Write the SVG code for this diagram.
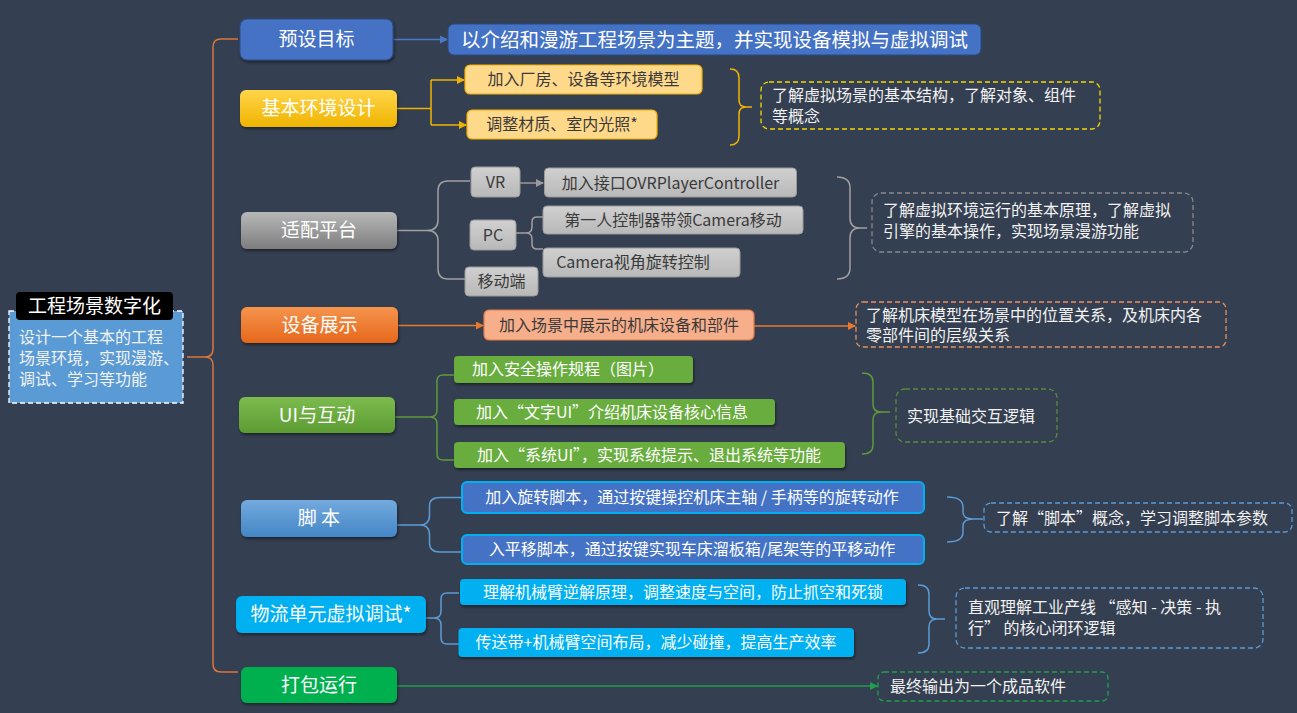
<svg xmlns="http://www.w3.org/2000/svg" width="1297" height="713" viewBox="0 0 1297 713">
<defs>
<linearGradient id="gY" x1="0" y1="0" x2="0" y2="1"><stop offset="0" stop-color="#ffd54a"/><stop offset="1" stop-color="#efb400"/></linearGradient>
<linearGradient id="gG" x1="0" y1="0" x2="0" y2="1"><stop offset="0" stop-color="#b8b8b8"/><stop offset="1" stop-color="#7d7d7d"/></linearGradient>
<linearGradient id="gGs" x1="0" y1="0" x2="0" y2="1"><stop offset="0" stop-color="#d0d0d0"/><stop offset="1" stop-color="#b8b8b8"/></linearGradient>
<linearGradient id="gO" x1="0" y1="0" x2="0" y2="1"><stop offset="0" stop-color="#f5944c"/><stop offset="1" stop-color="#e6681c"/></linearGradient>
<linearGradient id="gGr" x1="0" y1="0" x2="0" y2="1"><stop offset="0" stop-color="#7cbb4e"/><stop offset="1" stop-color="#5c9c33"/></linearGradient>
<linearGradient id="gB" x1="0" y1="0" x2="0" y2="1"><stop offset="0" stop-color="#74aade"/><stop offset="1" stop-color="#4386c6"/></linearGradient>
<filter id="sh" x="-10%" y="-20%" width="120%" height="150%"><feDropShadow dx="1" dy="2" stdDeviation="1.5" flood-color="#000" flood-opacity="0.45"/></filter>
<marker id="aB" markerWidth="8" markerHeight="8" refX="7" refY="4" orient="auto" markerUnits="userSpaceOnUse"><path d="M0,0 L8,4 L0,8 Z" fill="#4a78c8"/></marker>
<marker id="aY" markerWidth="8" markerHeight="8" refX="7" refY="4" orient="auto" markerUnits="userSpaceOnUse"><path d="M0,0 L8,4 L0,8 Z" fill="#f0b400"/></marker>
<marker id="aGy" markerWidth="8" markerHeight="8" refX="7" refY="4" orient="auto" markerUnits="userSpaceOnUse"><path d="M0,0 L8,4 L0,8 Z" fill="#9a9a9a"/></marker>
<marker id="aO" markerWidth="8" markerHeight="8" refX="7" refY="4" orient="auto" markerUnits="userSpaceOnUse"><path d="M0,0 L8,4 L0,8 Z" fill="#e8782e"/></marker>
<marker id="aGn" markerWidth="8" markerHeight="8" refX="7" refY="4" orient="auto" markerUnits="userSpaceOnUse"><path d="M0,0 L8,4 L0,8 Z" fill="#1ea04c"/></marker>
</defs>
<style>
text{font-family:"Noto Sans CJK SC","Noto Sans",sans-serif;}
.main{font-size:19px;fill:#ffffff;text-anchor:middle;}
.sub{font-size:16px;text-anchor:middle;}
.dk{fill:#3a3a3a;}
.wt{fill:#ffffff;}
.note{font-size:16px;fill:#f2f2f2;}
.ln{fill:none;stroke-width:1.5;}
.dash{fill:none;stroke-width:1.3;stroke-dasharray:5 3;}
</style>
<rect width="1297" height="713" fill="#343f51"/>

<g id="connectors">
<path class="ln" stroke="#d9773a" d="M187,357 L205,357 Q213,357 213,349 L213,47 Q213,39 221,39 L238,39 M205,357 Q213,357 213,365 L213,664 Q213,672 221,672 L238,672"/>
<path class="ln" stroke="#4a78c8" d="M393,39.5 L447,39.5" marker-end="url(#aB)"/>
<path class="ln" stroke="#f0b400" d="M397,108.5 L431,108.5 M431,80 L431,125" />
<path class="ln" stroke="#f0b400" d="M431,80 L464,80" marker-end="url(#aY)"/>
<path class="ln" stroke="#f0b400" d="M431,125 L466,125" marker-end="url(#aY)"/>
<path class="ln" stroke="#f0b400" d="M730,69 Q739,69 739,78 L739,100 Q739,107 746,107 L752,107 M746,107 Q739,107 739,114 L739,136 Q739,145 730,145"/>
<path class="ln" stroke="#a0a0a0" d="M397,230.5 L427,230.5 Q438,230.5 438,220 L438,191 Q438,181 448,181 L470,181 M427,230.5 Q438,230.5 438,241 L438,269 Q438,279 448,279 L465,279"/>
<path class="ln" stroke="#9a9a9a" d="M520,183 L543,183" marker-end="url(#aGy)"/>
<path class="ln" stroke="#a0a0a0" d="M516,233 L526,233 Q532,233 532,227 L532,222 Q532,217 537,217 L543,217 M526,233 Q532,233 532,239 L532,244 Q532,249 537,249 L543,249"/>
<path class="ln" stroke="#a0a0a0" d="M837,177 Q850,177 850,188 L850,218 Q850,228 860,228 L867,228 M860,228 Q850,228 850,238 L850,268 Q850,279 837,279"/>
<path class="ln" stroke="#e8782e" d="M398,325.5 L483,325.5" marker-end="url(#aO)"/>
<path class="ln" stroke="#e8782e" d="M754,326 L855,326" marker-end="url(#aO)"/>
<path class="ln" stroke="#5e9a3a" d="M395,417 L430,417 Q437,417 437,410 L437,381 Q437,375 443,375 L454,375 M430,417 Q437,417 437,424 L437,454 Q437,460 443,460 L454,460"/>
<path class="ln" stroke="#5e9a3a" d="M862,373 Q873,373 873,382 L873,404 Q873,412 881,412 L890,412 M881,412 Q873,412 873,420 L873,445 Q873,454 862,454"/>
<path class="ln" stroke="#5b9bd5" d="M397,525 L420,525 Q429.5,525 429.5,515 L429.5,506 Q429.5,497.5 440,497.5 L462,497.5 M420,525 Q429.5,525 429.5,535 L429.5,543 Q429.5,552 440,552 L462,552"/>
<path class="ln" stroke="#5b9bd5" d="M947,497 Q963,497 963,507 L963,512 Q963,519 973,519 L983,519 M973,519 Q963,519 963,526 L963,532 Q963,542 947,542"/>
<path class="ln" stroke="#5b9bd5" d="M426,618 L434,618 Q441,618 441,611 L441,599 Q441,593 447,593 L459,593 M434,618 Q441,618 441,625 L441,638 Q441,644 447,644 L459,644"/>
<path class="ln" stroke="#5b9bd5" d="M918,585 Q929,585 929,594 L929,611 Q929,619 937,619 L945,619 M937,619 Q929,619 929,627 L929,644 Q929,653 918,653"/>
<path class="ln" stroke="#1ea04c" d="M397,686 L877,686" marker-end="url(#aGn)"/>
</g>

<g id="root">
<rect x="9" y="311" width="174" height="92" fill="#5b9bd5" stroke="#ffffff" stroke-width="1.3" stroke-dasharray="5 3"/>
<rect x="16" y="292" width="157" height="28" rx="4" fill="#000000"/>
<text x="94.5" y="312.5" font-size="19" fill="#ffffff" text-anchor="middle">工程场景数字化</text>
<text class="note" x="19" y="343" fill="#f0f0f0">设计一个基本的工程</text>
<text class="note" x="19" y="364" fill="#f0f0f0">场景环境，实现漫游、</text>
<text class="note" x="19" y="385" fill="#f0f0f0">调试、学习等功能</text>
</g>

<g id="n-preset">
<rect x="240" y="19" width="153" height="41" rx="7" fill="#4472c4" stroke="#2a4a86" stroke-width="1" filter="url(#sh)"/>
<text class="main" x="316.5" y="46">预设目标</text>
</g>
<g id="n-goal">
<rect x="448" y="24" width="533" height="31" rx="6" fill="#4472c4" stroke="#2a4a86" stroke-width="1"/>
<text x="714.5" y="46.5" font-size="19.5" fill="#ffffff" text-anchor="middle">以介绍和漫游工程场景为主题，并实现设备模拟与虚拟调试</text>
</g>

<g id="n-env">
<rect x="240" y="90" width="157" height="37" rx="6" fill="url(#gY)" filter="url(#sh)"/>
<text class="main" x="318.5" y="115">基本环境设计</text>
</g>
<g id="n-env1">
<rect x="465" y="65" width="237" height="29" rx="5" fill="#ffd98a" stroke="#f2b200" stroke-width="1.2"/>
<text class="sub dk" x="583.5" y="85">加入厂房、设备等环境模型</text>
</g>
<g id="n-env2">
<rect x="467" y="110" width="190" height="29" rx="5" fill="#ffd98a" stroke="#f2b200" stroke-width="1.2"/>
<text class="sub dk" x="562" y="130">调整材质、室内光照*</text>
</g>
<g id="n-env-note">
<rect x="761" y="82" width="339" height="47" rx="8" class="dash" stroke="#f5d800"/>
<text class="note" x="772" y="101">了解虚拟场景的基本结构，了解对象、组件</text>
<text class="note" x="772" y="122">等概念</text>
</g>

<g id="n-platform">
<rect x="241" y="212" width="156" height="37" rx="6" fill="url(#gG)" filter="url(#sh)"/>
<text class="main" x="319" y="237">适配平台</text>
</g>
<g id="n-vr">
<rect x="471" y="167" width="49" height="30" rx="4" fill="url(#gGs)" stroke="#9a9a9a"/>
<text class="sub dk" x="495.5" y="188">VR</text>
</g>
<g id="n-vr1">
<rect x="544.5" y="168" width="252" height="29" rx="4" fill="url(#gGs)" stroke="#9a9a9a"/>
<text class="sub dk" x="670.5" y="188.5">加入接口OVRPlayerController</text>
</g>
<g id="n-pc">
<rect x="470" y="220" width="46" height="30" rx="4" fill="url(#gGs)" stroke="#9a9a9a"/>
<text class="sub dk" x="493" y="241">PC</text>
</g>
<g id="n-pc1">
<rect x="543" y="206" width="260" height="28" rx="4" fill="url(#gGs)" stroke="#9a9a9a"/>
<text class="sub dk" x="673" y="225.5">第一人控制器带领Camera移动</text>
</g>
<g id="n-pc2">
<rect x="543" y="248" width="197" height="29" rx="4" fill="url(#gGs)" stroke="#9a9a9a"/>
<text class="sub dk" x="633" y="268">Camera视角旋转控制</text>
</g>
<g id="n-mobile">
<rect x="465" y="267" width="73" height="29" rx="4" fill="url(#gGs)" stroke="#9a9a9a"/>
<text class="sub dk" x="501.5" y="287">移动端</text>
</g>
<g id="n-platform-note">
<rect x="872" y="193" width="321" height="59" rx="9" class="dash" stroke="#8a8a8a"/>
<text class="note" x="883" y="216">了解虚拟环境运行的基本原理，了解虚拟</text>
<text class="note" x="883" y="237">引擎的基本操作，实现场景漫游功能</text>
</g>

<g id="n-equip">
<rect x="241" y="307" width="157" height="36" rx="6" fill="url(#gO)" filter="url(#sh)"/>
<text class="main" x="319.5" y="331.5">设备展示</text>
</g>
<g id="n-equip1">
<rect x="484" y="310" width="270" height="30" rx="5" fill="#f7ae8b" stroke="#e57c45" stroke-width="1.2"/>
<text class="sub dk" x="619" y="330.5">加入场景中展示的机床设备和部件</text>
</g>
<g id="n-equip-note">
<rect x="856" y="302" width="370" height="45" rx="7" class="dash" stroke="#e8915a"/>
<text class="note" x="866" y="321">了解机床模型在场景中的位置关系，及机床内各</text>
<text class="note" x="866" y="341">零部件间的层级关系</text>
</g>

<g id="n-ui">
<rect x="239" y="397" width="156" height="36" rx="6" fill="url(#gGr)" filter="url(#sh)"/>
<text class="main" x="317" y="421.5">UI与互动</text>
</g>
<g id="n-ui1">
<rect x="454" y="356" width="239" height="27" rx="4" fill="#67ad3c" filter="url(#sh)"/>
<text class="sub wt" x="568" y="375">加入安全操作规程（图片）</text>
</g>
<g id="n-ui2">
<rect x="454" y="399" width="321" height="26" rx="4" fill="#67ad3c" filter="url(#sh)"/>
<text class="sub wt" x="612" y="417.5">加入“文字UI”介绍机床设备核心信息</text>
</g>
<g id="n-ui3">
<rect x="454" y="442" width="391" height="26" rx="4" fill="#67ad3c" filter="url(#sh)"/>
<text class="sub wt" x="649" y="460.5">加入“系统UI”，实现系统提示、退出系统等功能</text>
</g>
<g id="n-ui-note">
<rect x="896" y="389" width="161" height="53" rx="9" class="dash" stroke="#5a8a3a"/>
<text class="note" x="907" y="422">实现基础交互逻辑</text>
</g>

<g id="n-script">
<rect x="241" y="500" width="156" height="37" rx="6" fill="url(#gB)" filter="url(#sh)"/>
<text class="main" x="319" y="525">脚 本</text>
</g>
<g id="n-script1">
<rect x="462" y="482" width="462" height="31" rx="5" fill="#4472c4" stroke="#00b0f0" stroke-width="2"/>
<text class="sub wt" x="692" y="503">加入旋转脚本，通过按键操控机床主轴 / 手柄等的旋转动作</text>
</g>
<g id="n-script2">
<rect x="462" y="535" width="462" height="29" rx="5" fill="#4472c4" stroke="#00b0f0" stroke-width="2"/>
<text class="sub wt" x="692" y="555">入平移脚本，通过按键实现车床溜板箱/尾架等的平移动作</text>
</g>
<g id="n-script-note">
<rect x="984" y="503" width="308" height="29" rx="7" class="dash" stroke="#5b9bd5"/>
<text class="note" x="996" y="524">了解“脚本”概念，学习调整脚本参数</text>
</g>

<g id="n-logi">
<rect x="236" y="596" width="190" height="37" rx="6" fill="#00b0f0" filter="url(#sh)"/>
<text class="main" x="331" y="621">物流单元虚拟调试*</text>
</g>
<g id="n-logi1">
<rect x="460" y="579" width="446" height="26" rx="4" fill="#00b0f0" filter="url(#sh)"/>
<text class="sub wt" x="683" y="597.5" font-size="16.5">理解机械臂逆解原理，调整速度与空间，防止抓空和死锁</text>
</g>
<g id="n-logi2">
<rect x="458.5" y="628" width="395.5" height="29" rx="4" fill="#00b0f0" filter="url(#sh)"/>
<text class="sub wt" x="656" y="648" font-size="16.5">传送带+机械臂空间布局，减少碰撞，提高生产效率</text>
</g>
<g id="n-logi-note">
<rect x="956" y="588" width="307" height="60" rx="9" class="dash" stroke="#5b9bd5"/>
<text class="note" x="968" y="613">直观理解工业产线 “感知 - 决策 - 执</text>
<text class="note" x="968" y="634">行” 的核心闭环逻辑</text>
</g>

<g id="n-pack">
<rect x="241" y="667" width="156" height="36" rx="6" fill="#00b050" filter="url(#sh)"/>
<text class="main" x="319" y="691.5">打包运行</text>
</g>
<g id="n-pack-note">
<rect x="878" y="672" width="230" height="29" rx="6" class="dash" stroke="#1ea04c"/>
<text class="note" x="890" y="692">最终输出为一个成品软件</text>
</g>
</svg>
